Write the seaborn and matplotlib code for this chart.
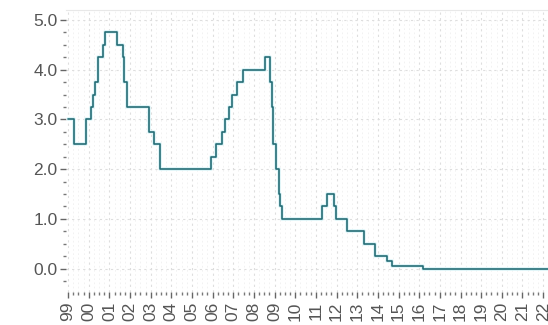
import numpy as np
import pandas as pd
import matplotlib
matplotlib.use("Agg")
import matplotlib.pyplot as plt
import matplotlib.dates as mdates
from matplotlib.ticker import MultipleLocator
import seaborn as sns

# ECB main refinancing rate, effective dates of each change
change_dates = [
    "1999-01-01", "1999-04-09", "1999-11-05", "2000-02-04", "2000-03-17",
    "2000-04-28", "2000-06-09", "2000-09-06", "2000-10-11", "2001-05-15",
    "2001-08-31", "2001-09-18", "2001-11-09", "2002-12-06", "2003-03-07",
    "2003-06-06", "2005-12-06", "2006-03-08", "2006-06-15", "2006-08-09",
    "2006-10-11", "2006-12-13", "2007-03-14", "2007-06-13", "2008-07-09",
    "2008-10-15", "2008-11-12", "2008-12-10", "2009-01-21", "2009-03-11",
    "2009-04-08", "2009-05-13", "2011-04-13", "2011-07-13", "2011-11-09",
    "2011-12-14", "2012-07-11", "2013-05-08", "2013-11-13", "2014-06-11",
    "2014-09-10", "2016-03-16", "2022-06-30",
]
rates = [
    3.00, 2.50, 3.00, 3.25, 3.50,
    3.75, 4.25, 4.50, 4.75, 4.50,
    4.25, 3.75, 3.25, 2.75, 2.50,
    2.00, 2.25, 2.50, 2.75, 3.00,
    3.25, 3.50, 3.75, 4.00, 4.25,
    3.75, 3.25, 2.50, 2.00, 1.50,
    1.25, 1.00, 1.25, 1.50, 1.25,
    1.00, 0.75, 0.50, 0.25, 0.15,
    0.05, 0.00, 0.00,
]

df = pd.DataFrame({"date": pd.to_datetime(change_dates), "rate": rates})

sns.set_style("white")
plt.rcParams["font.family"] = ["Liberation Sans", "DejaVu Sans"]

fig = plt.figure(figsize=(5.48, 3.25), dpi=100)
ax = fig.add_axes([66 / 548, 33 / 325, 1 - 66 / 548, (292 - 10) / 325])

# faint glow under the line, then the line itself
sns.lineplot(data=df, x="date", y="rate", ax=ax, drawstyle="steps-post",
             color="#dcf5f8", linewidth=2.6)
sns.lineplot(data=df, x="date", y="rate", ax=ax, drawstyle="steps-post",
             color="#256d76", linewidth=1.2)

ax.set_xlim(pd.Timestamp("1998-11-25"), pd.Timestamp("2022-03-28"))
ax.set_ylim(-0.47, 5.2)

ax.xaxis.set_major_locator(mdates.YearLocator())
ax.xaxis.set_major_formatter(mdates.DateFormatter("%y"))
ax.xaxis.set_minor_locator(mdates.MonthLocator(bymonth=(4, 7, 10)))
ax.yaxis.set_major_locator(MultipleLocator(1.0))
ax.yaxis.set_minor_locator(MultipleLocator(0.25))
ax.yaxis.set_major_formatter(matplotlib.ticker.FormatStrFormatter("%.1f"))

for lbl in ax.get_xticklabels():
    lbl.set_rotation(90)

ax.tick_params(axis="both", which="major", labelsize=12.5, colors="#666666",
               labelcolor="#555555", length=4, width=1)
ax.tick_params(axis="both", which="minor", colors="#777777", length=2, width=1)
ax.tick_params(axis="x", which="both", bottom=True, pad=3)
ax.tick_params(axis="y", which="both", left=True, pad=2)

ax.grid(True, which="major", linestyle=(0, (2, 3)), color="#dedede", linewidth=0.8)
ax.grid(True, which="minor", axis="x", linestyle=(0, (2, 3)), color="#f0f0f0", linewidth=0.6)

for side in ["left", "bottom", "right"]:
    ax.spines[side].set_visible(False)
ax.spines["top"].set_color("#e8e8e8")

ax.set_xlabel("")
ax.set_ylabel("")

fig.savefig("out.png", dpi=100)
